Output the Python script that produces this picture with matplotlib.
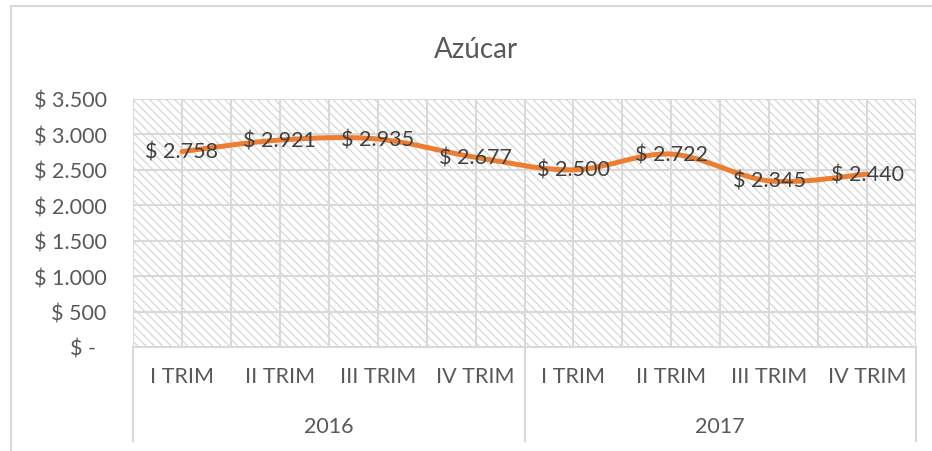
import matplotlib
matplotlib.use("Agg")
import matplotlib.pyplot as plt
from matplotlib.path import Path
from matplotlib.patches import PathPatch, Rectangle
from matplotlib.lines import Line2D
import matplotlib.transforms as mtransforms

# Datos del grafico
trimestres = ["I TRIM", "II TRIM", "III TRIM", "IV TRIM", "I TRIM", "II TRIM", "III TRIM", "IV TRIM"]
anios = ["2016", "2017"]
precios = [2758, 2921, 2935, 2677, 2500, 2722, 2345, 2440]
ticks_y = [0, 500, 1000, 1500, 2000, 2500, 3000, 3500]


def formato_pesos(v):
    if v == 0:
        return "$ -  "
    return "$ " + f"{v:,.0f}".replace(",", ".")


plt.rcParams["font.family"] = ["Lato", "DejaVu Sans"]
plt.rcParams["hatch.linewidth"] = 0.8

W, H = 932, 452
fig = plt.figure(figsize=(W / 100, H / 100), dpi=100)
ax = fig.add_axes([133 / W, 1 - 348 / H, (916 - 133) / W, (348 - 100) / H])

n = len(precios)
ax.set_xlim(-0.5, n - 0.5)
ax.set_ylim(0, 3500)

# fondo con trama diagonal
fondo = Rectangle((0, 0), 1, 1, transform=ax.transAxes, facecolor="white",
                  edgecolor="#d4d4d4", hatch="\\\\\\\\", linewidth=0, zorder=0)
ax.add_patch(fondo)

# grilla
ax.set_yticks(ticks_y)
ax.set_yticklabels([formato_pesos(v) for v in ticks_y])
ax.set_xticks(range(n))
ax.set_xticklabels(trimestres)
ax.grid(axis="y", which="major", color="#d9d9d9", linewidth=1.5, zorder=1)
for k in range(2 * n + 1):
    ax.axvline(k / 2 - 0.5, color="#d9d9d9", linewidth=1.5, zorder=1)
ax.set_axisbelow(True)

for s in ["top", "right", "left"]:
    ax.spines[s].set_visible(False)
ax.spines["bottom"].set_color("#d9d9d9")
ax.spines["bottom"].set_linewidth(1.5)

ax.tick_params(axis="y", length=0, pad=19, labelsize=15.5, labelcolor="#595959")
ax.tick_params(axis="x", which="both", length=0, pad=14, labelsize=15.5, labelcolor="#595959")

# linea suavizada (curvas bezier tipo Excel)
xs = list(range(n))
verts = [(xs[0], precios[0])]
codes = [Path.MOVETO]
for i in range(n - 1):
    x0, y0 = (xs[i - 1], precios[i - 1]) if i > 0 else (xs[i], precios[i])
    x1, y1 = xs[i], precios[i]
    x2, y2 = xs[i + 1], precios[i + 1]
    x3, y3 = (xs[i + 2], precios[i + 2]) if i + 2 < n else (x2, y2)
    verts += [(x1 + (x2 - x0) / 6, y1 + (y2 - y0) / 6),
              (x2 - (x3 - x1) / 6, y2 - (y3 - y1) / 6),
              (x2, y2)]
    codes += [Path.CURVE4] * 3
linea = PathPatch(Path(verts, codes), facecolor="none", edgecolor="#ed7d31",
                  linewidth=3.6, capstyle="round", joinstyle="round", zorder=3)
ax.add_patch(linea)

# etiquetas de datos
for i, v in enumerate(precios):
    ax.text(i, v, formato_pesos(v), ha="center", va="center", fontsize=15.5,
            color="#404040", zorder=4)

# eje de categorias de dos niveles
trans = mtransforms.blended_transform_factory(ax.transData, ax.transAxes)
for xsep in [-0.5, 3.5, 7.5]:
    ax.add_line(Line2D([xsep, xsep], [0, -(442 - 348) / 248], transform=trans,
                       color="#d9d9d9", linewidth=1.5, clip_on=False))
for j, anio in enumerate(anios):
    ax.text(j * 4 + 1.5, -(427 - 348) / 248, anio, transform=trans, ha="center",
            va="center", fontsize=15.5, color="#595959")

fig.text(476 / W, 1 - 50 / H, "Azúcar", ha="center", va="center", fontsize=20,
         color="#595959")

# borde del grafico
fig.add_artist(Line2D([11 / W, 11 / W], [0, 1 - 7 / H], transform=fig.transFigure,
                      color="#d9d9d9", linewidth=1.5))
fig.add_artist(Line2D([11 / W, 1], [1 - 7 / H, 1 - 7 / H], transform=fig.transFigure,
                      color="#d9d9d9", linewidth=1.5))

fig.savefig("out.png", dpi=100, facecolor="white")
